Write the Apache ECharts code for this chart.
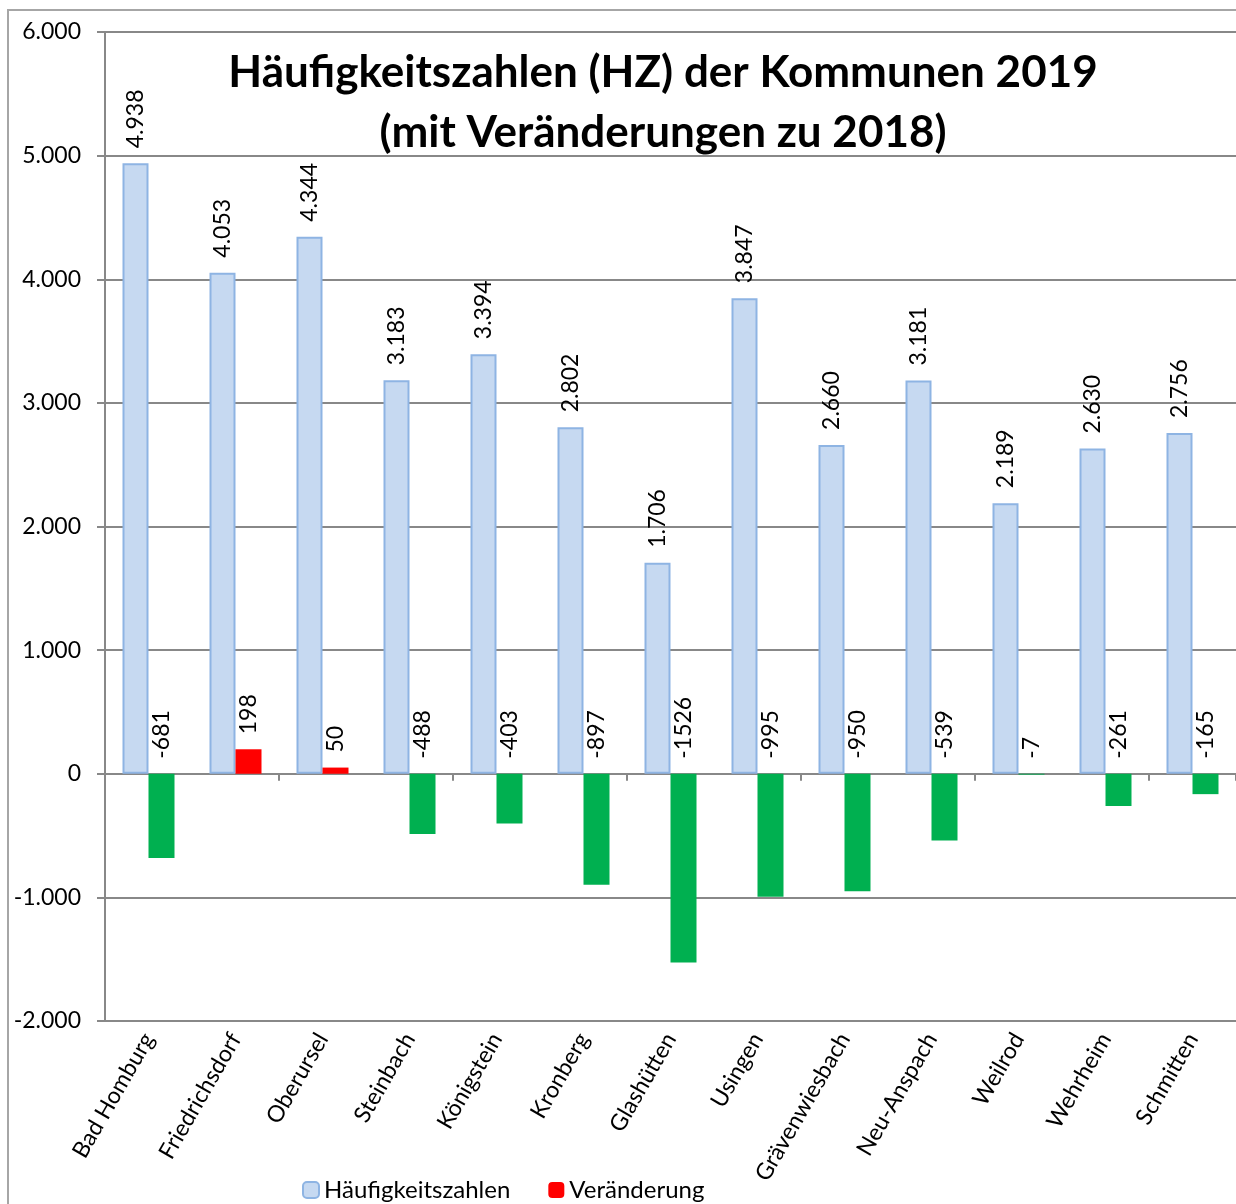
<!DOCTYPE html>
<html>
<head>
<meta charset="utf-8">
<title>HZ der Kommunen 2019</title>
<script src="https://cdn.jsdelivr.net/npm/echarts@6/dist/echarts.min.js"></script>
<style>
  html, body { margin: 0; padding: 0; background: #fff; }
  #frame { position: absolute; left: 7px; top: 9px; width: 1400px; height: 1400px;
           border-left: 2px solid #a6a6a6; border-top: 2px solid #a6a6a6; }
  #main { position: absolute; left: 0; top: 0; width: 1236px; height: 1204px; }
</style>
</head>
<body>
<div id="frame"></div>
<div id="main"></div>
<script>
// Kommunen
const kommunen = ["Bad Homburg", "Friedrichsdorf", "Oberursel", "Steinbach", "Königstein", "Kronberg",
  "Glashütten", "Usingen", "Grävenwiesbach", "Neu-Anspach", "Weilrod", "Wehrheim", "Schmitten"];
// HZ 2019
const hz2019 = [4938, 4053, 4344, 3183, 3394, 2802, 1706, 3847, 2660, 3181, 2189, 2630, 2756];
// Veränderung zu 2018
const veraenderung = [-681, 198, 50, -488, -403, -897, -1526, -995, -950, -539, -7, -261, -165];

const font = "Lato";
// 4938 -> "4.938"
const punkt = (v) => String(v).replace(/\B(?=(\d{3})+(?!\d))/g, ".");

const labelBase = {
  show: true,
  position: "top",
  rotate: 90,
  align: "left",
  verticalAlign: "middle",
  distance: 15,
  fontFamily: font,
  fontSize: 23,
  color: "#000",
};

const option = {
  animation: false,
  textStyle: { fontFamily: font },
  title: {
    text: "Häufigkeitszahlen (HZ) der Kommunen 2019\n(mit Veränderungen zu 2018)",
    left: 658,
    textAlign: "center",
    top: 38,
    textStyle: { fontFamily: font, fontSize: 44, fontWeight: "bold", color: "#000", lineHeight: 60 },
  },
  legend: {
    top: 1173,
    left: 297,
    itemWidth: 16,
    itemHeight: 16,
    itemGap: 38,
    textStyle: { fontFamily: font, fontSize: 24, color: "#000" },
    data: ["Häufigkeitszahlen", "Veränderung"],
  },
  grid: { left: 105, right: 0, top: 32, bottom: 183 },
  xAxis: [
    {
      type: "category",
      data: kommunen,
      axisLine: { onZero: true, lineStyle: { color: "#888", width: 2 } },
      axisTick: { show: true, length: 7, lineStyle: { color: "#888", width: 2 } },
      axisLabel: { show: false },
    },
    {
      type: "category",
      position: "bottom",
      data: kommunen,
      axisLine: { show: false },
      axisTick: { show: false },
      axisLabel: { rotate: 60, margin: 14, fontFamily: font, fontSize: 23, color: "#000" },
    },
  ],
  yAxis: {
    type: "value",
    min: -2000,
    max: 6000,
    interval: 1000,
    axisLine: { show: true, lineStyle: { color: "#888", width: 2 } },
    axisTick: { show: true, length: 8, lineStyle: { color: "#888", width: 2 } },
    axisLabel: { margin: 24, fontFamily: font, fontSize: 23, color: "#000", formatter: punkt },
    splitLine: { lineStyle: { color: "#888", width: 2 } },
  },
  series: [
    {
      name: "Häufigkeitszahlen",
      type: "bar",
      xAxisIndex: 0,
      barWidth: 26,
      barGap: "0%",
      data: hz2019,
      itemStyle: { color: "#C6D9F1", borderColor: "#8EB4E3", borderWidth: 2 },
      label: { ...labelBase, formatter: (p) => punkt(p.value) },
    },
    {
      name: "Veränderung",
      type: "bar",
      xAxisIndex: 0,
      barWidth: 26,
      data: veraenderung.map((v) => (v < 0 ? { value: v, itemStyle: { color: "#00B050" } } : v)),
      itemStyle: { color: "#FF0000" },
      label: { ...labelBase, formatter: (p) => String(p.value) },
    },
  ],
};

echarts.init(document.getElementById("main")).setOption(option);
</script>
</body>
</html>
